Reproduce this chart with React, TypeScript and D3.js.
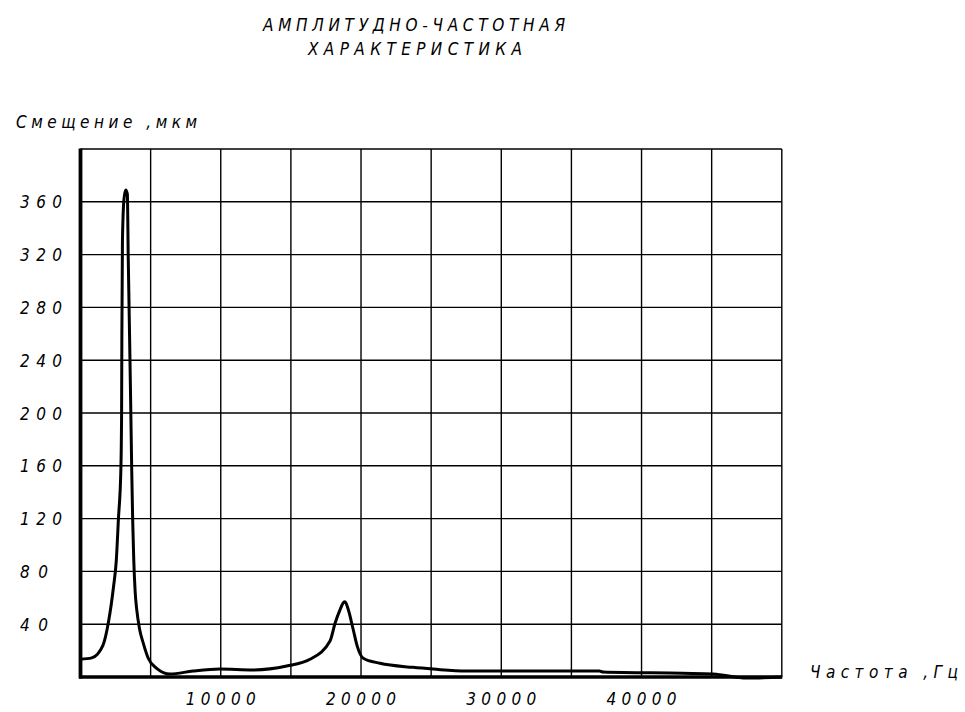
import React from "react";
import * as d3 from "d3";

const titleLines = ["АМПЛИТУДНО-ЧАСТОТНАЯ", "ХАРАКТЕРИСТИКА"];
const yAxisTitle = "Смещение ,мкм";
const xAxisTitle = "Частота ,Гц";

const xTickValues = [10000, 20000, 30000, 40000];
const yTickValues = [40, 80, 120, 160, 200, 240, 280, 320, 360];

const freq = [
  0, 800, 1600, 2000, 2350, 2550, 2700, 2880, 2930, 2950, 2990, 3100, 3220,
  3340, 3400, 3480, 3580, 3650, 3720, 3800, 3900, 4010, 4200, 4480, 4830, 5430,
  6380, 8020, 9940, 12290, 14700, 16360, 17790, 18150, 18500, 18740, 18860,
  19100, 19450, 19740, 20160, 21350, 23700, 25150, 27520, 37000, 37250, 42950,
  45100, 47500, 50000,
];
const displacement = [
  13.5, 14.5, 24, 42, 68, 88, 119, 158, 200, 260, 330, 362, 369, 366, 320, 270,
  206, 158, 119, 88, 64, 51, 37, 25.5, 14.2, 6.6, 2.3, 4.5, 6, 5.3, 8.3, 13.4,
  27.3, 40.7, 50.8, 56.3, 57, 50.8, 35.6, 23, 14.2, 10.4, 7.3, 6, 4.5, 4.5, 3.8,
  2.8, 2.3, -0.8, 0,
];

const W = 965;
const H = 712;
const FONT = "'DejaVu Sans Condensed', 'DejaVu Sans', sans-serif";

export default function App() {
  const x = d3.scaleLinear().domain([0, 50000]).range([80.5, 781.8]);
  const y = d3.scaleLinear().domain([0, 400]).range([677, 149]);

  const xGrid = d3.range(5000, 50001, 5000);
  const yGrid = d3.range(40, 401, 40);

  const data = freq.map((f, i) => [f, displacement[i]] as [number, number]);
  const line = d3
    .line<[number, number]>()
    .x((d) => x(d[0]))
    .y((d) => y(d[1]))
    .curve(d3.curveMonotoneX);

  const textProps = {
    fontFamily: FONT,
    fontStyle: "italic" as const,
    fontSize: 17,
    fill: "#000",
    lengthAdjust: "spacing",
  };

  return (
    <svg
      width={W}
      height={H}
      style={{ position: "absolute", left: 0, top: 0, background: "#fff" }}
    >
      <rect x={0} y={0} width={W} height={H} fill="#fff" />
      {/* grid */}
      {xGrid.map((v) => (
        <line
          key={"gx" + v}
          x1={x(v)}
          x2={x(v)}
          y1={y(400)}
          y2={y(0)}
          stroke="#000"
          strokeWidth={1.4}
        />
      ))}
      {yGrid.map((v) => (
        <line
          key={"gy" + v}
          x1={x(0)}
          x2={x(50000)}
          y1={y(v)}
          y2={y(v)}
          stroke="#000"
          strokeWidth={1.4}
        />
      ))}
      {/* axes */}
      <line x1={x(0)} x2={x(0)} y1={y(400) - 0.5} y2={y(0) + 1.5} stroke="#000" strokeWidth={3.8} />
      <line x1={x(0) - 1.5} x2={x(50000) + 0.5} y1={y(0)} y2={y(0)} stroke="#000" strokeWidth={3.6} />

      {/* curve */}
      <path d={line(data) || ""} fill="none" stroke="#000" strokeWidth={3} strokeLinejoin="round" />

      {/* title */}
      <text x={263} y={31} textLength={302} {...textProps}>
        {titleLines[0]}
      </text>
      <text x={308} y={55} textLength={214} {...textProps}>
        {titleLines[1]}
      </text>

      {/* axis titles */}
      <text x={16} y={128} textLength={181} {...textProps}>
        {yAxisTitle}
      </text>
      <text x={810} y={678} textLength={148} {...textProps}>
        {xAxisTitle}
      </text>

      {/* y tick labels */}
      {yTickValues.map((v) => {
        const s = String(v);
        return (
          <text
            key={"yt" + v}
            x={20}
            y={y(v) + 6.5}
            textLength={s.length * 14}
            {...textProps}
          >
            {s}
          </text>
        );
      })}

      {/* x tick labels */}
      {xTickValues.map((v) => {
        const s = String(v);
        return (
          <text
            key={"xt" + v}
            x={x(v) - 35}
            y={705}
            textLength={70}
            {...textProps}
          >
            {s}
          </text>
        );
      })}
    </svg>
  );
}
